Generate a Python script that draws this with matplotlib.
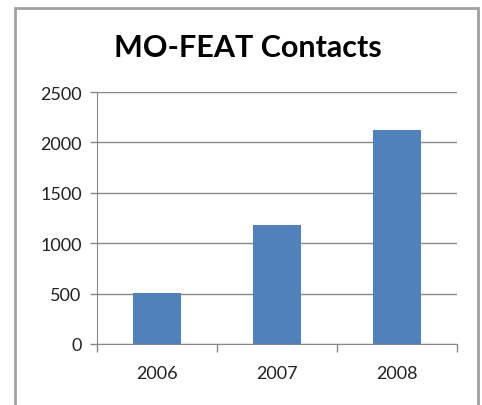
import matplotlib.pyplot as plt
from matplotlib.patches import Rectangle

# Data
years = ['2006', '2007', '2008']
contacts = [510, 1180, 2120]
yticks = [0, 500, 1000, 1500, 2000, 2500]

plt.rcParams['font.family'] = ['Lato', 'DejaVu Sans']

fig = plt.figure(figsize=(4.82, 4.06), dpi=100)

# Outer chart frame
fig.patches.append(Rectangle((15 / 482, -0.1), (478 - 15) / 482, 1.1 - 9 / 406,
                             transform=fig.transFigure, fill=False,
                             edgecolor='#a0a0a0', lw=2))

ax = fig.add_axes([97 / 482, 1 - 345 / 406, 360 / 482, 252 / 406])

x = list(range(len(years)))
ax.bar(x, contacts, width=0.4, color='#4F81BD', zorder=3)

ax.set_xlim(-0.5, 2.5)
ax.set_ylim(0, 2500)
ax.set_yticks(yticks)
ax.set_yticklabels([str(v) for v in yticks], fontsize=13, color='#222222')
ax.tick_params(axis='y', length=5, color='#888888', width=1, pad=6)

# category boundaries as major ticks, labels in the middle as minor ticks
ax.set_xticks([-0.5, 0.5, 1.5, 2.5])
ax.set_xticklabels([])
ax.tick_params(axis='x', which='major', length=6, color='#888888', width=1)
ax.set_xticks(x, minor=True)
ax.set_xticklabels(years, minor=True, fontsize=13, color='#222222')
ax.tick_params(axis='x', which='minor', length=0, pad=15)

ax.grid(axis='y', color='#888888', lw=1, zorder=0)
for s in ['top', 'right']:
    ax.spines[s].set_visible(False)
for s in ['left', 'bottom']:
    ax.spines[s].set_color('#888888')

fig.text(248 / 482, 1 - 48 / 406, 'MO-FEAT Contacts', ha='center', va='center',
         fontsize=22, fontweight='bold', color='black')

fig.savefig('out.png', dpi=100)
